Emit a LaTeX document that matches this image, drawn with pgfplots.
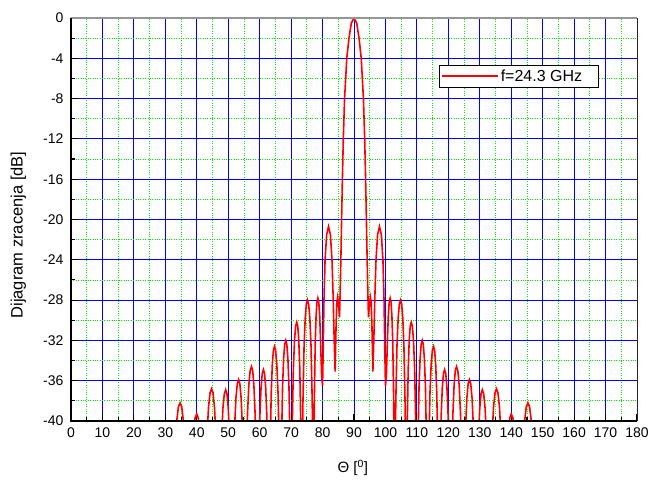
\documentclass[border=0pt]{standalone}
\usepackage{fontspec}
\setmainfont{Liberation Sans}
\usepackage{pgfplots}
\pgfplotsset{compat=1.18}
\definecolor{gridblue}{RGB}{0,0,255}
\definecolor{gridgreen}{RGB}{0,235,0}
\definecolor{topgray}{RGB}{150,150,150}
\begin{document}
\begin{tikzpicture}
\begin{axis}[
  name=ax,
  scale only axis,
  width=566bp, height=403bp,
  xmin=0, xmax=180, ymin=-40, ymax=0,
  xtick={0,10,...,180},
  ytick={-40,-36,...,0},
  minor xtick={5,15,...,175},
  minor ytick={-38,-34,...,-2},
  grid=both,
  major grid style={gridblue, line width=0.8bp},
  minor grid style={gridgreen, dotted, line width=0.8bp},
  tick align=inside,
  xtick pos=left, ytick pos=left,
  major tick length=7bp, minor tick length=4bp,
  every tick/.style={black, line width=1.1bp},
  axis line style={draw=none},
  /pgf/number format/assume math mode=true,
  tick label style={font=\fontsize{14bp}{16bp}\selectfont},
  yticklabel style={xshift=-4bp},
  xticklabel style={yshift=-3bp},
  every axis y label/.style={at={(axis description cs:-0.0928,0.4615)}, rotate=90, anchor=center, font=\fontsize{16.5bp}{18bp}\selectfont},
  every axis x label/.style={at={(axis description cs:0.498,-0.1166)}, anchor=center, font=\fontsize{15bp}{18bp}\selectfont},
  ylabel={Dijagram zracenja [dB]},
  xlabel={Θ [\textsuperscript{0}]},
  legend style={at={(0.650,0.8835)}, anchor=north west, draw=black, line width=0.6bp, fill=white,
    font=\fontsize{16bp}{18bp}\selectfont, inner xsep=2bp, inner ysep=2.5bp},
  legend image code/.code={\path (0bp,0bp) -- (14bp,0bp); \draw[#1, line width=1.6bp] (14bp,0bp) -- (56bp,0bp);},
  legend cell align=left,
]
\addplot[red, line width=1.6bp] coordinates {
(32.0,-60) (32.54,-48.4) (33.08,-42.8) (33.62,-40.0) (34.16,-38.6) (34.7,-38.2) (35.22,-38.6) (35.74,-40.0) (36.26,-42.8) (36.78,-48.4) (37.3,-60)
(37.84,-49.5) (38.38,-43.9) (38.92,-41.1) (39.46,-39.7) (40.0,-39.3) (40.46,-39.7) (40.92,-41.1) (41.38,-43.9) (41.84,-49.5) (42.3,-60)
(42.78,-47.0) (43.26,-41.4) (43.74,-38.6) (44.22,-37.2) (44.7,-36.8) (45.16,-37.2) (45.62,-38.6) (46.08,-41.4) (46.54,-47.0) (47.0,-60)
(47.44,-47.1) (47.88,-41.5) (48.32,-38.7) (48.76,-37.3) (49.2,-36.9) (49.6,-37.3) (50.0,-38.7) (50.4,-41.5) (50.8,-47.1) (51.2,-60)
(51.62,-46.1) (52.04,-40.5) (52.46,-37.7) (52.88,-36.3) (53.3,-35.9) (53.7,-36.3) (54.1,-37.7) (54.5,-40.5) (54.9,-46.1) (55.3,-60)
(55.72,-44.8) (56.14,-39.2) (56.56,-36.4) (56.98,-35.0) (57.4,-34.6) (57.78,-35.0) (58.16,-36.4) (58.54,-39.2) (58.92,-44.8) (59.3,-60)
(59.68,-45.1) (60.06,-39.5) (60.44,-36.7) (60.82,-35.3) (61.2,-34.9) (61.56,-35.3) (61.92,-36.7) (62.28,-39.5) (62.64,-45.1) (63.0,-60)
(63.34,-42.8) (63.68,-37.2) (64.02,-34.4) (64.36,-33.0) (64.7,-32.6) (65.08,-33.0) (65.46,-34.4) (65.84,-37.2) (66.22,-42.8) (66.6,-60)
(66.94,-42.2) (67.28,-36.6) (67.62,-33.8) (67.96,-32.4) (68.3,-32.0) (68.64,-32.4) (68.98,-33.8) (69.32,-36.6) (69.66,-42.2) (70.0,-60)
(70.36,-40.4) (70.72,-34.8) (71.08,-32.0) (71.44,-30.6) (71.8,-30.2) (72.12,-30.6) (72.44,-32.0) (72.76,-34.8) (73.08,-40.4) (73.4,-60)
(73.58,-44.0) (73.76,-38.2) (74.12,-32.6) (74.48,-29.8) (74.84,-28.4) (75.2,-28.0) (75.58,-28.4) (75.96,-29.8) (76.34,-32.6) (76.72,-38.2) (76.91,-44.0) (77.1,-60)
(77.24,-43.8) (77.38,-38.0) (77.66,-32.4) (77.94,-29.6) (78.22,-28.2) (78.5,-27.8) (78.8,-28.2) (79.1,-29.6) (79.4,-32.4) (79.7,-35.5) (80.0,-36.5)
(80.2,-33.0) (80.45,-28.0) (80.8,-24.0) (81.3,-21.5) (81.9,-20.7) (82.5,-21.5) (83.0,-24.0) (83.4,-28.0) (83.7,-32.0) (84.0,-35.1)
(84.3,-30.5) (84.55,-28.2) (84.8,-27.7) (85.1,-28.4) (85.4,-29.7)
(85.65,-26.5) (85.9,-22.7) (86.1,-19.3) (86.3,-16.1) (86.6,-12.0) (87.0,-8.0) (87.7,-4.0) (88.4,-2.0) (89.15,-0.5) (90,0)
(90.85,-0.5) (91.6,-2.0) (92.3,-4.0) (93.0,-8.0) (93.4,-12.0) (93.7,-16.1) (93.9,-19.3) (94.1,-22.7) (94.35,-26.5)
(94.6,-29.7) (94.9,-28.4) (95.2,-27.7) (95.45,-28.2) (95.7,-30.5)
(96.0,-35.1) (96.3,-32.0) (96.6,-28.0) (97.0,-24.0) (97.5,-21.5) (98.1,-20.7) (98.7,-21.5) (99.2,-24.0) (99.55,-28.0) (99.8,-33.0)
(100.0,-36.5) (100.3,-35.5) (100.6,-32.4) (100.9,-29.6) (101.2,-28.2) (101.5,-27.8) (101.78,-28.2) (102.06,-29.6) (102.34,-32.4) (102.62,-38.0) (102.76,-43.8)
(102.9,-60) (103.09,-44.0) (103.28,-38.2) (103.66,-32.6) (104.04,-29.8) (104.42,-28.4) (104.8,-28.0) (105.16,-28.4) (105.52,-29.8) (105.88,-32.6) (106.24,-38.2) (106.42,-44.0)
(106.6,-60) (106.92,-40.4) (107.24,-34.8) (107.56,-32.0) (107.88,-30.6) (108.2,-30.2) (108.56,-30.6) (108.92,-32.0) (109.28,-34.8) (109.64,-40.4)
(110.0,-60) (110.34,-42.2) (110.68,-36.6) (111.02,-33.8) (111.36,-32.4) (111.7,-32.0) (112.04,-32.4) (112.38,-33.8) (112.72,-36.6) (113.06,-42.2)
(113.4,-60) (113.78,-42.8) (114.16,-37.2) (114.54,-34.4) (114.92,-33.0) (115.3,-32.6) (115.64,-33.0) (115.98,-34.4) (116.32,-37.2) (116.66,-42.8)
(117.0,-60) (117.36,-45.1) (117.72,-39.5) (118.08,-36.7) (118.44,-35.3) (118.8,-34.9) (119.18,-35.3) (119.56,-36.7) (119.94,-39.5) (120.32,-45.1)
(120.7,-60) (121.08,-44.8) (121.46,-39.2) (121.84,-36.4) (122.22,-35.0) (122.6,-34.6) (123.02,-35.0) (123.44,-36.4) (123.86,-39.2) (124.28,-44.8)
(124.7,-60) (125.1,-46.1) (125.5,-40.5) (125.9,-37.7) (126.3,-36.3) (126.7,-35.9) (127.12,-36.3) (127.54,-37.7) (127.96,-40.5) (128.38,-46.1)
(128.8,-60) (129.2,-47.1) (129.6,-41.5) (130.0,-38.7) (130.4,-37.3) (130.8,-36.9) (131.24,-37.3) (131.68,-38.7) (132.12,-41.5) (132.56,-47.1)
(133.0,-60) (133.46,-47.0) (133.92,-41.4) (134.38,-38.6) (134.84,-37.2) (135.3,-36.8) (135.78,-37.2) (136.26,-38.6) (136.74,-41.4) (137.22,-47.0)
(137.7,-60) (138.16,-49.5) (138.62,-43.9) (139.08,-41.1) (139.54,-39.7) (140.0,-39.3) (140.54,-39.7) (141.08,-41.1) (141.62,-43.9) (142.16,-49.5)
(142.7,-60) (143.22,-48.4) (143.74,-42.8) (144.26,-40.0) (144.78,-38.6) (145.3,-38.2) (145.84,-38.6) (146.38,-40.0) (146.92,-42.8) (147.46,-48.4) (148.0,-60)
};
\addlegendentry{f=24.3 GHz\kern 12bp}
\end{axis}
\draw[topgray, line width=1.3bp] (ax.north west) -- (ax.north east);
\draw[black!85, line width=1bp] (ax.north east) -- (ax.south east);
\draw[black, line width=1.8bp] (ax.north west) -- (ax.south west) -- (ax.south east);
\pgfresetboundingbox
\path ([shift={(-71bp,-63bp)}]ax.south west) rectangle ([shift={(15bp,18bp)}]ax.north east);
\end{tikzpicture}
\end{document}
